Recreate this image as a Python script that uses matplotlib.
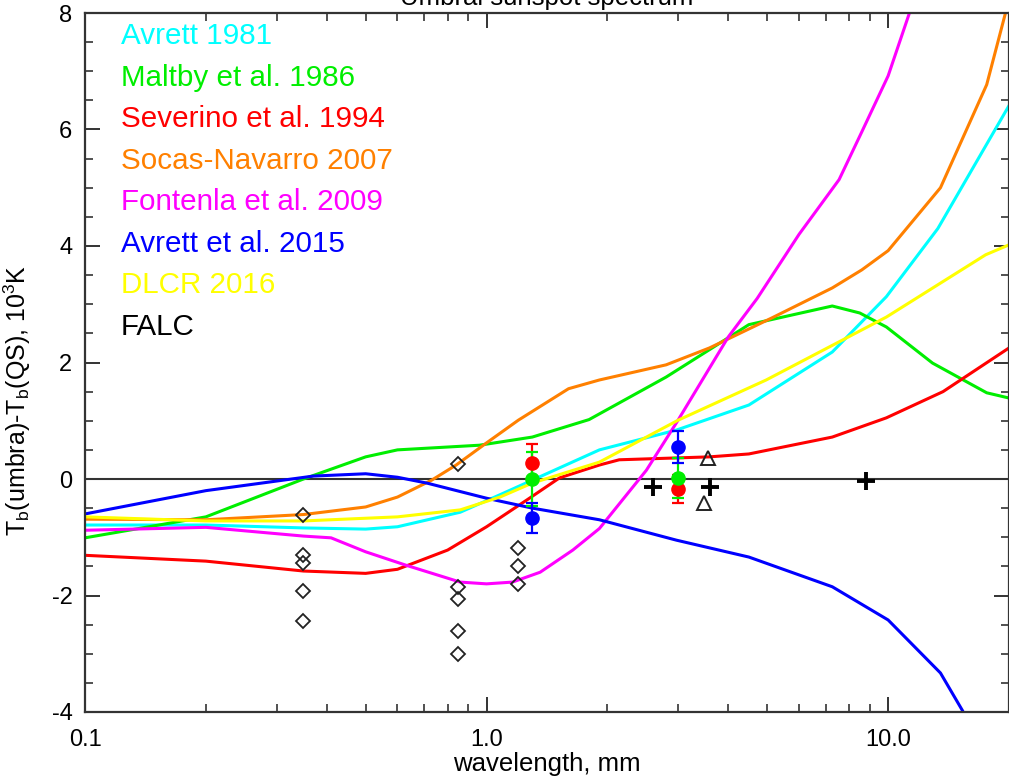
import matplotlib
matplotlib.use("Agg")
import matplotlib.pyplot as plt
from matplotlib.ticker import FixedLocator, FixedFormatter

plt.rcParams['font.family'] = ['Liberation Sans', 'DejaVu Sans']
plt.rcParams['axes.unicode_minus'] = False

# ---- model spectra: wavelength (mm) and Tb(umbra) - Tb(QS) (10^3 K) ----
avrett1981_wl = [0.1, 0.2, 0.35, 0.5, 0.6, 0.86, 1.08, 1.3, 1.91, 2.97, 4.5, 7.26, 9.9, 13.3, 20.0]
avrett1981_tb = [-0.79, -0.79, -0.84, -0.86, -0.82, -0.57, -0.27, -0.02, 0.5, 0.84, 1.27, 2.18, 3.13, 4.3, 6.41]

maltby_wl = [0.1, 0.2, 0.35, 0.5, 0.6, 0.96, 1.3, 1.8, 2.8, 3.59, 4.5, 7.26, 8.5, 9.9, 12.9, 17.6, 20.0]
maltby_tb = [-1.01, -0.65, 0.0, 0.38, 0.5, 0.58, 0.72, 1.02, 1.75, 2.22, 2.65, 2.97, 2.85, 2.61, 1.99, 1.48, 1.39]

severino_wl = [0.1, 0.2, 0.35, 0.5, 0.6, 0.8, 1.0, 1.26, 1.52, 1.91, 2.14, 3.59, 4.5, 7.26, 9.9, 13.7, 20.0]
severino_tb = [-1.31, -1.41, -1.58, -1.62, -1.55, -1.22, -0.82, -0.36, 0.02, 0.24, 0.33, 0.38, 0.43, 0.72, 1.05, 1.5, 2.25]

socas_wl = [0.1, 0.2, 0.35, 0.5, 0.6, 0.73, 0.84, 1.0, 1.2, 1.6, 1.91, 2.8, 3.59, 5.15, 7.26, 8.6, 10.0, 13.5, 17.6, 19.6]
socas_tb = [-0.69, -0.7, -0.61, -0.48, -0.31, -0.02, 0.24, 0.62, 1.01, 1.55, 1.7, 1.96, 2.25, 2.77, 3.28, 3.59, 3.92, 5.0, 6.77, 8.0]

fontenla_wl = [0.1, 0.2, 0.35, 0.41, 0.5, 0.63, 0.86, 1.0, 1.16, 1.36, 1.64, 1.91, 2.5, 2.98, 4.0, 4.72, 6.0, 7.55, 8.6, 10.0, 11.3]
fontenla_tb = [-0.88, -0.83, -0.98, -1.01, -1.25, -1.48, -1.77, -1.8, -1.77, -1.6, -1.22, -0.85, 0.15, 0.98, 2.44, 3.1, 4.2, 5.14, 5.96, 6.92, 8.0]

avrett2015_wl = [0.1, 0.2, 0.37, 0.5, 0.6, 0.71, 1.0, 1.3, 1.91, 2.97, 4.5, 7.26, 10.0, 13.5, 15.3]
avrett2015_tb = [-0.6, -0.2, 0.05, 0.09, 0.03, -0.07, -0.33, -0.5, -0.7, -1.05, -1.34, -1.85, -2.42, -3.33, -3.97]

dlcr_wl = [0.1, 0.2, 0.35, 0.6, 0.86, 1.08, 1.3, 1.91, 3.0, 4.97, 9.9, 17.5, 20.0]
dlcr_tb = [-0.65, -0.72, -0.72, -0.65, -0.53, -0.31, -0.07, 0.29, 1.01, 1.7, 2.78, 3.85, 4.02]

# ---- observations ----
diamond_wl = [0.35, 0.35, 0.35, 0.35, 0.35, 0.85, 0.85, 0.85, 0.85, 0.85, 1.2, 1.2, 1.2]
diamond_tb = [-0.62, -1.31, -1.44, -1.92, -2.44, 0.26, -1.85, -2.06, -2.61, -3.0, -1.19, -1.49, -1.81]

triangle_wl = [3.55, 3.47]
triangle_tb = [0.36, -0.41]

cross_wl = [2.6, 3.6, 8.8]
cross_tb = [-0.14, -0.14, -0.03]

alma_wl = [1.3, 3.0]
alma_red = [0.27, -0.17]
alma_red_err = [0.33, 0.24]
alma_green = [0.0, 0.02]
alma_green_err = [0.46, 0.34]
alma_blue = [-0.67, 0.55]
alma_blue_err = [0.26, 0.27]

legend_labels = ["Avrett 1981", "Maltby et al. 1986", "Severino et al. 1994",
                 "Socas-Navarro 2007", "Fontenla et al. 2009", "Avrett et al. 2015",
                 "DLCR 2016", "FALC"]
legend_colors = ["#00ffff", "#00ee00", "#ff0000", "#ff8000", "#ff00ff", "#0000ff",
                 "#ffff00", "#000000"]

xtick_values = [0.1, 1.0, 10.0]
xtick_labels = ["0.1", "1.0", "10.0"]

W, H = 1009, 778
fig = plt.figure(figsize=(W / 100, H / 100), dpi=100)
ax = fig.add_axes([85 / W, (H - 712) / H, (W - 85) / W, (712 - 13) / H])

ax.set_xscale('log')
ax.set_xlim(0.1, 20)
ax.set_ylim(-4, 8)

ax.axhline(0, color='#333333', lw=1.5, zorder=1)

curves = [
    (avrett1981_wl, avrett1981_tb),
    (maltby_wl, maltby_tb),
    (severino_wl, severino_tb),
    (socas_wl, socas_tb),
    (fontenla_wl, fontenla_tb),
    (avrett2015_wl, avrett2015_tb),
    (dlcr_wl, dlcr_tb),
]
for (wl, tb), c in zip(curves, legend_colors):
    ax.plot(wl, tb, color=c, lw=2.2, zorder=2)

ax.plot(diamond_wl, diamond_tb, 'D', ms=7.5, mfc='none', mec='#222222', mew=1.3, zorder=3)
ax.plot(triangle_wl, triangle_tb, '^', ms=10, mfc='none', mec='#222222', mew=1.4, zorder=3)
ax.plot(cross_wl, cross_tb, '+', ms=13, mec='#000000', mew=2.8, zorder=3)

for vals, errs, c in [(alma_red, alma_red_err, '#ff0000'),
                      (alma_green, alma_green_err, '#00ee00'),
                      (alma_blue, alma_blue_err, '#0000ff')]:
    ax.errorbar(alma_wl, vals, yerr=errs, fmt='o', color=c, ms=9.5, elinewidth=1.6,
                capsize=4, capthick=1.6, zorder=4)

# colored text key
for i, (lab, c) in enumerate(zip(legend_labels, legend_colors)):
    ypx = 44.3 + 41.5 * i
    ax.text((121 - 85) / (W - 85), (712 - ypx) / (712 - 13), lab, color=c,
            fontsize=21.3, transform=ax.transAxes, ha='left', va='baseline')

# ticks
ax.xaxis.set_major_locator(FixedLocator(xtick_values))
ax.xaxis.set_major_formatter(FixedFormatter(xtick_labels))
minor_x = [m * d for d in (0.1, 1.0, 10.0) for m in range(2, 10) if m * d <= 20]
ax.xaxis.set_minor_locator(FixedLocator(minor_x))
ax.xaxis.set_minor_formatter(FixedFormatter([""] * len(minor_x)))
ax.set_yticks(range(-4, 9, 2))
ax.set_yticks([v * 0.5 for v in range(-8, 17)], minor=True)

ax.tick_params(which='both', direction='in', top=True, right=True, color='#333333')
ax.tick_params(which='major', length=11, width=1.4)
ax.tick_params(which='minor', length=6, width=1.2)
ax.tick_params(axis='x', which='major', labelsize=17, pad=12)
ax.tick_params(axis='y', which='major', labelsize=17, pad=9)

for s in ax.spines.values():
    s.set_color('#333333')
    s.set_linewidth(1.6)

ax.set_xlabel("wavelength, mm", fontsize=18.5, labelpad=1)
ax.set_ylabel(r"T$_\mathregular{b}$(umbra)-T$_\mathregular{b}$(QS), 10$^\mathregular{3}$K",
              fontsize=18)
ax.yaxis.set_label_coords((33 - 85) / (W - 85), (712 - 400) / (712 - 13))

fig.text(ax.get_position().x0 + ax.get_position().width / 2, (H - 5) / H,
         "Umbral sunspot spectrum", fontsize=18.5, ha='center', va='baseline')

fig.savefig("out.png", dpi=100)
